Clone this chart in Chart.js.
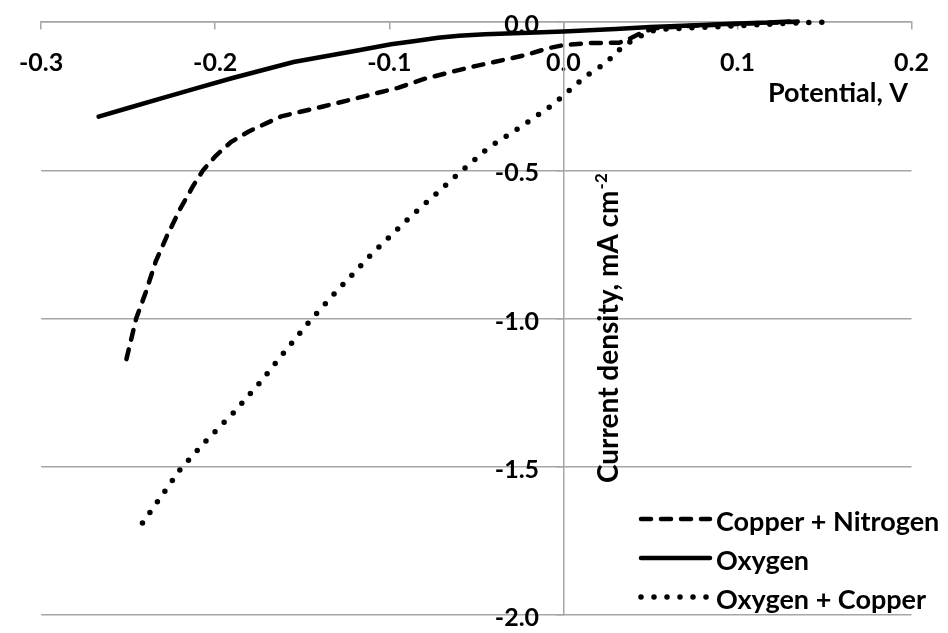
<!DOCTYPE html>
<html>
<head>
<meta charset="utf-8">
<script src="https://cdn.jsdelivr.net/npm/chart.js@4"></script>
<style>
    body { margin: 0; background: #fff; }
    #chartContainer { width: 948px; height: 633px; }
</style>
</head>
<body>
<div id="chartContainer"><canvas id="chart" width="948" height="633"></canvas></div>
<script>
// Copper + Nitrogen (dashed)
const cuN2Potential = [-0.251, -0.2454, -0.2398, -0.2342, -0.2276, -0.2202, -0.2127, -0.207, -0.1998, -0.191, -0.181, -0.162, -0.138, -0.114, -0.095, -0.08, -0.062, -0.05, -0.022, -0.009, 0.0, 0.015, 0.032, 0.036, 0.045, 0.052, 0.07, 0.09, 0.11, 0.13, 0.14];
const cuN2Current = [-1.137, -1.0, -0.91, -0.808, -0.72, -0.631, -0.553, -0.5, -0.452, -0.405, -0.37, -0.318, -0.285, -0.25, -0.222, -0.192, -0.165, -0.148, -0.112, -0.089, -0.078, -0.071, -0.07, -0.062, -0.036, -0.021, -0.014, -0.009, -0.004, 0.0, 0.003];

// Oxygen (solid)
const o2Potential = [-0.267, -0.25, -0.23, -0.21, -0.19, -0.155, -0.1175, -0.099, -0.085, -0.072, -0.06, -0.045, -0.02, 0.0, 0.03, 0.05, 0.08, 0.1, 0.118, 0.13];
const o2Current = [-0.319, -0.29, -0.256, -0.222, -0.189, -0.135, -0.095, -0.075, -0.064, -0.053, -0.046, -0.041, -0.036, -0.032, -0.024, -0.017, -0.01, -0.005, -0.002, 0.002];

// Oxygen + Copper (dotted)
const o2CuPotential = [-0.2418, -0.220, -0.205, -0.189, -0.174, -0.1645, -0.1455, -0.1304, -0.110, -0.088, -0.060, -0.043, -0.024, -0.0054, 0.013, 0.024, 0.035, 0.047, 0.054, 0.073, 0.107, 0.129, 0.1525];
const o2CuCurrent = [-1.69, -1.508, -1.411, -1.315, -1.214, -1.144, -1.007, -0.909, -0.782, -0.658, -0.51, -0.424, -0.352, -0.276, -0.182, -0.14, -0.078, -0.039, -0.025, -0.02, -0.011, -0.004, 0.0];

const seriesLabels = ['Copper + Nitrogen', 'Oxygen', 'Oxygen + Copper'];
const xTicks = [-0.3, -0.2, -0.1, 0.0, 0.1, 0.2];
const yTicks = [0.0, -0.5, -1.0, -1.5, -2.0];
const xTitle = 'Potential, V';
const yTitle = 'Current density, mA cm';
const yTitleSup = '-2';

const FONT = 'Lato, "Open Sans", sans-serif';
const GRID = '#a6a6a6';

function toPoints(xs, ys) {
    return xs.map((x, i) => ({x: x, y: ys[i]}));
}

// legend + axis titles drawn inside the plot, like the original
const overlay = {
    id: 'overlay',
    afterDraw(chart) {
        const ctx = chart.ctx;
        ctx.save();
        ctx.fillStyle = '#000';
        ctx.font = `bold 27px ${FONT}`;
        ctx.textBaseline = 'alphabetic';
        ctx.textAlign = 'center';
        ctx.fillText(xTitle, 838, 102);

        // y title, rotated, reading upward
        ctx.textAlign = 'left';
        ctx.save();
        ctx.translate(618, 483);
        ctx.rotate(-Math.PI / 2);
        ctx.font = `bold 28px ${FONT}`;
        ctx.fillText(yTitle, 0, 0);
        const w = ctx.measureText(yTitle).width;
        ctx.font = `bold 17px ${FONT}`;
        ctx.fillText(yTitleSup, w + 1, -11);
        ctx.restore();

        // legend
        ctx.font = `bold 27px ${FONT}`;
        ctx.textBaseline = 'middle';
        const rows = [521, 560, 599];
        chart.data.datasets.forEach((ds, i) => {
            const y = rows[i];
            ctx.save();
            ctx.strokeStyle = ds.borderColor;
            ctx.lineWidth = ds.borderWidth;
            ctx.lineCap = ds.borderCapStyle || 'butt';
            ctx.setLineDash(ds.borderDash || []);
            ctx.beginPath();
            ctx.moveTo(641, y - 2);
            ctx.lineTo(710, y - 2);
            ctx.stroke();
            ctx.restore();
            ctx.fillText(ds.label, 716, y + 1);
        });
        ctx.restore();
    }
};

new Chart(document.getElementById('chart'), {
    type: 'scatter',
    data: {
        datasets: [{
            label: seriesLabels[0],
            data: toPoints(cuN2Potential, cuN2Current),
            borderColor: '#000',
            borderWidth: 4.5,
            borderDash: [10, 10],
            borderCapStyle: 'round'
        }, {
            label: seriesLabels[1],
            data: toPoints(o2Potential, o2Current),
            borderColor: '#000',
            borderWidth: 4.5,
            borderCapStyle: 'round'
        }, {
            label: seriesLabels[2],
            data: toPoints(o2CuPotential, o2CuCurrent),
            borderColor: '#000',
            borderWidth: 5.5,
            borderDash: [0, 13],
            borderCapStyle: 'round'
        }]
    },
    options: {
        responsive: false,
        animation: false,
        devicePixelRatio: 1,
        showLine: true,
        clip: false,
        elements: {
            point: {radius: 0, hoverRadius: 0},
            line: {tension: 0, fill: false}
        },
        layout: {padding: {left: 34, right: 21, top: 22, bottom: 15}},
        plugins: {
            legend: {display: false},
            tooltip: {enabled: false}
        },
        scales: {
            x: {
                type: 'linear',
                position: {y: 0},
                min: -0.3,
                max: 0.2,
                afterBuildTicks: s => { s.ticks = xTicks.map(v => ({value: v})); },
                grid: {drawOnChartArea: false, drawTicks: true, tickLength: 7, color: GRID, lineWidth: 1.5},
                border: {display: true, color: GRID, width: 1.5},
                ticks: {
                    padding: 19,
                    color: '#000',
                    maxRotation: 0,
                    font: {family: FONT, size: 25, weight: 'bold'},
                    callback: v => v.toFixed(1)
                }
            },
            y: {
                type: 'linear',
                position: {x: 0},
                min: -2.0,
                max: 0.0,
                afterBuildTicks: s => { s.ticks = yTicks.map(v => ({value: v})); },
                grid: {drawTicks: true, tickLength: 7, color: GRID, lineWidth: 1.5},
                border: {display: true, color: GRID, width: 1.5},
                ticks: {
                    color: '#000',
                    labelOffset: 3,
                    font: {family: FONT, size: 25, weight: 'bold'},
                    callback: v => v.toFixed(1) + '    '
                }
            }
        }
    },
    plugins: [overlay]
});
</script>
</body>
</html>
